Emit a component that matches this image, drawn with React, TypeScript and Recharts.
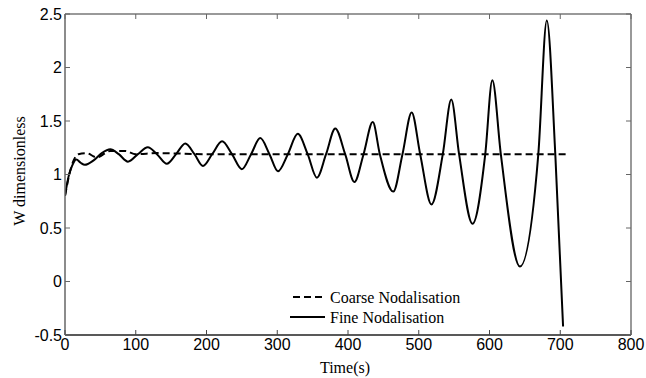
import { LineChart, Line, XAxis, YAxis, Legend } from "recharts";

// Fine nodalisation (solid) - time (s) and W
const fineTime = [
  0, 5, 10, 16, 22, 28, 40, 52, 64, 76, 89, 103, 117, 130, 144, 157, 170, 183,
  195, 208, 222, 236, 250, 263, 276, 289, 301, 315, 329, 343, 356, 369, 382,
  396, 409, 422, 435, 445, 464, 477, 490, 502, 518, 534, 546, 557, 576, 594,
  604, 616, 643, 669, 681, 693, 704,
];
const fineW = [
  0.8, 0.98, 1.08, 1.14, 1.11, 1.09, 1.13, 1.2, 1.235, 1.19, 1.12, 1.19, 1.255,
  1.19, 1.1, 1.19, 1.29, 1.19, 1.08, 1.19, 1.31, 1.19, 1.05, 1.19, 1.34, 1.19,
  1.03, 1.19, 1.38, 1.19, 0.97, 1.19, 1.43, 1.19, 0.93, 1.19, 1.49, 1.19, 0.84,
  1.19, 1.58, 1.19, 0.72, 1.19, 1.7, 1.19, 0.54, 1.19, 1.88, 1.19, 0.14, 1.19,
  2.44, 1.19, -0.42,
];

// Coarse nodalisation (dashed)
const coarseTime = [0, 8, 19, 30, 45, 64, 85, 100, 130, 200, 709];
const coarseW = [0.8, 1.05, 1.19, 1.2, 1.16, 1.22, 1.22, 1.19, 1.2, 1.19, 1.19];

const xTicks = [0, 100, 200, 300, 400, 500, 600, 700, 800];
const yTicks = [-0.5, 0, 0.5, 1, 1.5, 2, 2.5];

const fineData = fineTime.map((t, i) => ({ t, w: fineW[i] }));
const coarseData = coarseTime.map((t, i) => ({ t, w: coarseW[i] }));

const sans = '"Liberation Sans", Arial, sans-serif';
const serif = '"Liberation Serif", "Times New Roman", serif';

const BottomTick = (props: any) => {
  const { x, y, payload } = props;
  return (
    <g>
      <line x1={x} y1={y - 3} x2={x} y2={y - 8} stroke="#444" />
      <text x={x} y={y} dy="0.72em" textAnchor="middle" fontFamily={sans} fontSize={16} fill="#000">
        {payload.value}
      </text>
    </g>
  );
};

const LeftTick = (props: any) => {
  const { x, y, payload } = props;
  return (
    <g>
      <line x1={x + 3} y1={y} x2={x + 8} y2={y} stroke="#666" />
      <text x={x} y={y} dy="0.36em" textAnchor="end" fontFamily={sans} fontSize={16} fill="#000">
        {payload.value}
      </text>
    </g>
  );
};

const TopTick = (props: any) => {
  const { x, y } = props;
  return <line x1={x} y1={y} x2={x} y2={y + 5} stroke="#666" />;
};

const RightTick = (props: any) => {
  const { x, y } = props;
  return <line x1={x} y1={y} x2={x - 5} y2={y} stroke="#666" />;
};

const LegendBox = (props: any) => {
  const items = props.payload || [];
  return (
    <svg width={220} height={44}>
      {items.map((item: any, i: number) => (
        <g key={item.value}>
          <line
            x1={i === 0 ? 5 : 2}
            y1={11 + i * 20}
            x2={37}
            y2={11 + i * 20}
            stroke="#000"
            strokeWidth={2}
            strokeDasharray={i === 0 ? "7 4" : undefined}
          />
          <text x={42} y={11 + i * 20} dy="0.35em" fontFamily={serif} fontSize={16} fill="#000">
            {item.value}
          </text>
        </g>
      ))}
    </svg>
  );
};

export default function App() {
  return (
    <div style={{ position: "absolute", left: 0, top: 0, width: 646, height: 378, background: "#fff" }}>
      <LineChart width={646} height={378} margin={{ top: 13, right: 14, bottom: 3, left: 25 }}>
        <XAxis
          type="number"
          dataKey="t"
          domain={[0, 800]}
          ticks={xTicks}
          interval={0}
          height={40}
          tickSize={0}
          tickMargin={3}
          tick={BottomTick}
          tickLine={false}
          axisLine={{ stroke: "#222", strokeWidth: 1.5 }}
          allowDataOverflow
          label={() => (
            <text x={345} y={367} dy="0.35em" textAnchor="middle" fontFamily={serif} fontSize={16} fill="#000">
              Time(s)
            </text>
          )}
        />
        <XAxis
          xAxisId="top"
          orientation="top"
          type="number"
          dataKey="t"
          domain={[0, 800]}
          ticks={xTicks}
          interval={0}
          height={1}
          tickSize={0}
          tickMargin={0}
          tick={TopTick}
          tickLine={false}
          axisLine={{ stroke: "#777", strokeWidth: 1.5 }}
          allowDataOverflow
        />
        <YAxis
          type="number"
          domain={[-0.5, 2.5]}
          ticks={yTicks}
          interval={0}
          width={40}
          tickSize={0}
          tickMargin={3}
          tick={LeftTick}
          tickLine={false}
          axisLine={{ stroke: "#666", strokeWidth: 1.5 }}
          allowDataOverflow
          label={() => (
            <text
              x={19}
              y={171}
              dy="0.35em"
              textAnchor="middle"
              transform="rotate(-90, 19, 171)"
              fontFamily={serif}
              fontSize={16}
              fill="#000"
            >
              W dimensionless
            </text>
          )}
        />
        <YAxis
          yAxisId="right"
          orientation="right"
          type="number"
          domain={[-0.5, 2.5]}
          ticks={yTicks}
          interval={0}
          width={1}
          tickSize={0}
          tickMargin={0}
          tick={RightTick}
          tickLine={false}
          axisLine={{ stroke: "#777", strokeWidth: 1.5 }}
          allowDataOverflow
        />
        <Legend
          layout="vertical"
          align="center"
          verticalAlign="middle"
          content={LegendBox}
          wrapperStyle={{ left: 288, top: 286, width: 220, height: 44 }}
        />
        <Line
          data={coarseData}
          dataKey="w"
          name="Coarse Nodalisation"
          type="monotone"
          stroke="#000"
          strokeWidth={2}
          strokeDasharray="7 4"
          dot={false}
          activeDot={false}
          isAnimationActive={false}
        />
        <Line
          data={fineData}
          dataKey="w"
          name="Fine Nodalisation"
          type="monotone"
          stroke="#000"
          strokeWidth={2}
          dot={false}
          activeDot={false}
          isAnimationActive={false}
        />
        {/* invisible series so the top/right frame axes get rendered */}
        <Line
          data={fineData}
          dataKey="w"
          xAxisId="top"
          yAxisId="right"
          stroke="none"
          dot={false}
          activeDot={false}
          legendType="none"
          isAnimationActive={false}
        />
      </LineChart>
    </div>
  );
}
